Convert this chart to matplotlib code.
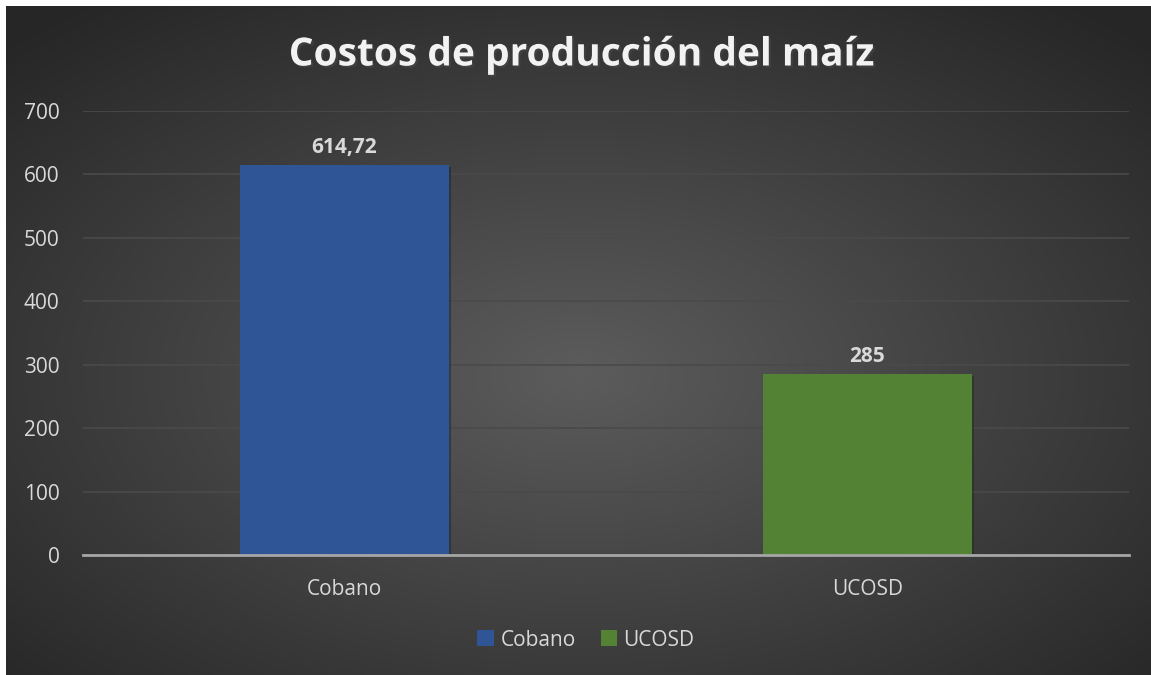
import numpy as np
import matplotlib
matplotlib.use("Agg")
import matplotlib.pyplot as plt
from matplotlib.patches import Patch
import matplotlib.patheffects as pe

categories = ["Cobano", "UCOSD"]
values = [614.72, 285]
value_labels = ["614,72", "285"]
colors = ["#2f5597", "#548235"]
yticks = [0, 100, 200, 300, 400, 500, 600, 700]
title = "Costos de producción del maíz"

W, H = 1151, 675
fig = plt.figure(figsize=(W / 100, H / 100), dpi=100)
fig.patch.set_facecolor("white")

# background radial gradient (chart area)
bg = fig.add_axes([6 / W, 0, 1 - 6 / W, 1 - 6 / H])
bg.set_axis_off()
yy, xx = np.mgrid[0:300, 0:500]
cx, cy = 250, 165
r = np.sqrt(((xx - cx) / 250) ** 2 + ((yy - cy) / 150) ** 2) / np.sqrt(2)
r = np.clip(r, 0, 1)
c0 = np.array([0x5c, 0x5c, 0x5c]) / 255
c1 = np.array([0x26, 0x26, 0x26]) / 255
img = c0[None, None, :] * (1 - r[..., None]) + c1[None, None, :] * r[..., None]
bg.imshow(img, aspect="auto", extent=[0, 1, 0, 1], interpolation="bilinear")
bg.set_xlim(0, 1)
bg.set_ylim(0, 1)

ax = fig.add_axes([83 / W, 1 - 555 / H, (1129 - 83) / W, (555 - 111) / H])
ax.patch.set_alpha(0)
x = np.arange(len(categories))
bars = ax.bar(x, values, width=0.40, color=colors, zorder=3,
              path_effects=[pe.SimplePatchShadow(offset=(1.5, -1.5), alpha=0.4), pe.Normal()])
ax.set_xlim(-0.5, len(categories) - 0.5)
ax.set_ylim(0, 700)
ax.set_yticks(yticks)
ax.set_yticklabels([str(t) for t in yticks])
ax.grid(axis="y", color="#4a4a4a", linewidth=1.2, zorder=0)
for s in ["top", "right", "left"]:
    ax.spines[s].set_visible(False)
ax.spines["bottom"].set_color("#a6a6a6")
ax.spines["bottom"].set_linewidth(2)
ax.spines["bottom"].set_zorder(4)
ax.tick_params(axis="both", length=0, colors="#d9d9d9", labelsize=15)
ax.tick_params(axis="y", pad=17)
ax.tick_params(axis="x", pad=17)
ax.set_xticks(x)
ax.set_xticklabels(categories, fontfamily="Open Sans")
for lab in ax.get_yticklabels():
    lab.set_fontfamily("Open Sans")

for xi, v, lab in zip(x, values, value_labels):
    ax.annotate(lab, (xi, v), xytext=(0, 5), textcoords="offset points",
                ha="center", va="bottom", fontsize=15, fontweight="bold",
                color="#d9d9d9", fontfamily="Open Sans")

fig.text(581 / W, 1 - 55 / H, title, ha="center", va="center", fontsize=28,
         fontweight="bold", color="#f2f2f2", fontfamily="Open Sans",
         path_effects=[pe.withSimplePatchShadow(offset=(1.5, -1.5), alpha=0.5)])

handles = [Patch(facecolor=c, label=cat) for c, cat in zip(colors, categories)]
leg = fig.legend(handles=handles, loc="center", bbox_to_anchor=(586 / W, 1 - 640 / H),
                 ncol=2, frameon=False, handlelength=0.8, handleheight=0.8,
                 handletextpad=0.3, columnspacing=1.2,
                 prop={"family": "Open Sans", "size": 15})
for t in leg.get_texts():
    t.set_color("#d9d9d9")

fig.savefig("out.png", dpi=100, facecolor=fig.get_facecolor())
